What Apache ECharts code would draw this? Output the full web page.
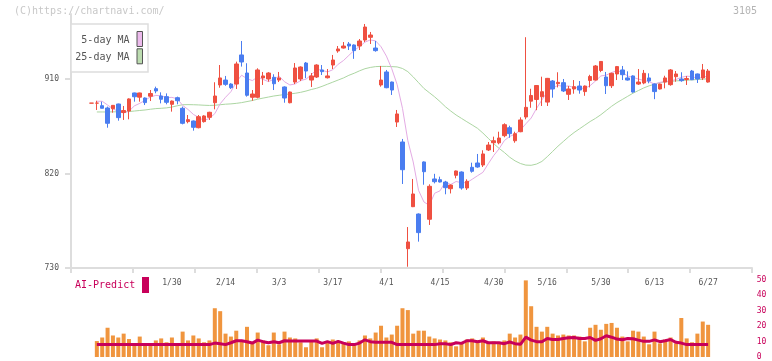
<!DOCTYPE html>
<html>
<head>
<meta charset="utf-8">
<script src="https://cdn.jsdelivr.net/npm/echarts@6/dist/echarts.min.js"></script>
<style>html,body{margin:0;padding:0;background:#fff;}#c{width:772px;height:361px;}</style>
</head>
<body>
<div id="c"></div>
<script>
const dates = ['1/8','1/9','1/10','1/14','1/15','1/16','1/17','1/20','1/21','1/22','1/23','1/24','1/27','1/28','1/29','1/30','1/31',
'2/3','2/4','2/5','2/6','2/7','2/10','2/12','2/13','2/14','2/17','2/18','2/19','2/20','2/21','2/25','2/26','2/27','2/28',
'3/3','3/4','3/5','3/6','3/7','3/10','3/11','3/12','3/13','3/14','3/17','3/18','3/19','3/21','3/24','3/25','3/26','3/27','3/28','3/31',
'4/1','4/2','4/3','4/4','4/7','4/8','4/9','4/10','4/11','4/14','4/15','4/16','4/17','4/18','4/21','4/22','4/23','4/24','4/25','4/28','4/30',
'5/1','5/2','5/7','5/8','5/9','5/12','5/13','5/14','5/15','5/16','5/19','5/20','5/21','5/22','5/23','5/26','5/27','5/28','5/29','5/30',
'6/2','6/3','6/4','6/5','6/6','6/9','6/10','6/11','6/12','6/13','6/16','6/17','6/18','6/19','6/20','6/23','6/24','6/25','6/26','6/27'];

// [open, close, low, high]
const ohlc = [
[887,887,887,887],[887,887,880.5,889.3],[884.6,882.1,882.1,888.4],[882.4,867.8,863.6,883.7],[881.7,884.9,877.9,885.2],
[886.2,873.2,870.3,886.5],[878.1,880,871,884.3],[879.5,891,871.6,891.6],[896.7,893.1,888.4,897],[892.7,896.7,888.4,897],
[891.9,887.5,885.2,892.5],[893.6,896.2,889,899.5],[900.8,898.6,896.4,902.7],[893.8,890.7,886.8,897.3],[893.2,887.8,885.9,896.3],
[885.9,889,878.9,889.5],[892.2,889.3,885.9,893.2],[882.1,867.8,866.8,883.7],[869.4,871.3,867.8,875.7],[870,864,860.8,870.5],
[863.6,874.1,863,875.7],[869.4,874.8,868.5,875.5],[873.5,878.3,871,878.8],[887.4,893.8,881.1,906.9],[904.3,911,901.7,923.3],
[909,904.9,903.5,912.9],[905.2,901.7,900.5,906],[905.2,924.3,900.5,926.5],[932.9,926.2,921.8,946.2],[915.7,894.5,893.2,925],
[892.6,895.7,889.3,899.5],[892.6,918.6,891.6,920.2],[911,912.9,904.3,916.7],[910,915.7,907.5,916.5],[911.6,905.5,899.5,914.5],
[909,911,907.1,916.7],[902.4,891.9,887.4,903],[887.4,897.6,886.8,898],[907.1,920.5,905.2,925.2],[910,921.4,908,922],
[925.2,917.6,910.8,926.2],[909,912.9,902.4,915.7],[911.9,923.3,911,924],[918.6,917,913.8,923.3],[911.2,912.9,910.5,919.5],
[923.3,928.1,919.5,932.9],[936.7,938.6,935,941.4],[939.5,941.4,939,945.2],[943.3,941.4,937.6,945.2],[942.4,937,929.2,943],
[941.4,946.2,937.6,948.1],[947.1,959.5,945.2,962.4],[949.7,951.9,943.3,954.8],[939.5,937,936,946.2],[904.3,909,902.7,922.4],
[916.7,901.7,901.2,918.6],[907.1,899.5,894.8,907.5],[869,876.7,864.3,880.5],[850,823.6,810,852.9],[748.4,754.8,731.2,769],
[788.4,800.5,788,814.8],[781.4,763.7,755.1,782],[831,821.7,809.3,831.5],[776.4,807.8,771,809.7],[814.8,812.2,810.6,819.7],
[814.1,811.9,811.5,817],[811.9,806.5,800.2,813],[805.5,809,801,809.5],[818.3,822.4,815.4,822.8],[821.4,806.2,804.6,822],
[806.2,812.6,804.3,814.5],[825.9,822.1,820.8,830.3],[830,826.2,825.5,838.6],[828.1,838.6,826.2,842.1],[842.4,847.1,841.4,850],
[849.3,851.2,840.5,855.1],[849.2,853.8,847.8,859.8],[856,866.5,854.5,867.8],[863.6,857.9,854,865.5],[851.2,857.9,849.3,859.8],
[859.8,871,859.3,873.5],[873.8,883,871.6,949.8],[888.9,894.3,882.6,900.7],[890.5,903.8,880.3,904.2],[893.1,897.9,884.3,912.2],
[888,910.6,884.3,911],[908.1,900.5,892.2,909],[905.5,906.8,902,916.4],[906.5,898.6,897.6,910],[895.4,900.5,890,903.3],
[900.5,902.7,896,909],[903.3,899.5,896,908.1],[898,903.3,894,903.8],[908.6,912.4,902,914],[909,922.4,908.5,923.3],
[918.1,926.7,916.5,927],[911.9,903.6,895.7,916.7],[903.6,915.4,901.4,916],[914.8,921.8,909,922.4],[918.6,914.1,909,922.4],
[911,909,908.5,917.3],[912.9,897.6,897,913.5],[905.2,907.1,904.3,919.5],[906.2,915.4,905,918.6],[911,908.1,905.9,915.4],
[905.2,898,890.8,905.8],[900.5,905.2,900,905.6],[907.1,911,901.1,913.1],[904.6,918.6,903.6,919.5],[912.2,914.8,907.4,917.6],
[910,908.4,907.4,916.4],[909.5,910.5,904.3,912.8],[917.6,909.3,909,918.6],[914.8,910,906.2,915.2],[911,918.6,909,924.3],
[907.1,917.6,906.5,919.5]];

const ma5 = [null,888.8,888.8,885.2,881.7,879.0,877.6,879.4,884.4,886.8,889.7,892.9,894.4,893.9,892.2,892.5,891.1,884.9,881.0,876.3,
873.3,870.4,872.5,877.0,886.4,892.6,897.9,907.1,913.6,910.3,908.5,911.9,909.6,907.5,909.7,912.7,907.4,904.3,905.3,908.5,
909.8,914.0,919.1,918.4,916.7,918.8,924.0,927.6,932.5,937.3,940.9,945.1,947.2,946.3,940.7,931.8,919.8,904.8,882.1,851.3,
831.0,803.9,792.9,789.7,801.2,803.5,812.0,809.5,812.4,811.2,811.3,814.5,817.9,821.1,829.3,837.0,843.4,851.4,855.3,857.5,
861.4,867.3,872.8,882.0,890.0,897.9,901.4,903.9,902.9,903.4,901.8,901.6,900.9,903.7,908.1,912.9,913.7,916.1,918.0,916.3,
912.8,911.6,909.9,908.6,907.4,905.2,906.8,907.5,908.2,909.5,911.6,912.7,912.3,910.6,911.4,913.2];

const ma25 = [null,878.6,878.6,878.6,878.7,878.8,878.9,879.0,879.5,880.0,880.5,881.2,881.8,882.1,882.5,883.3,884.5,885.5,885.6,885.5,
885.3,885.0,884.8,885.0,885.5,886.0,886.3,886.8,887.5,888.5,889.5,890.8,891.8,892.8,893.8,894.5,895.2,895.8,896.4,897.3,
898.5,900.0,901.2,903.0,905.0,907.0,909.0,911.0,913.5,915.5,917.8,919.8,921.0,921.8,922.0,922.0,921.8,921.5,920.0,917.0,
912.0,906.5,901.0,897.0,893.0,888.5,883.6,879.5,875.7,872.5,869.3,866.2,863.0,858.5,853.5,848.5,844.0,840.0,835.5,832.0,
829.5,828.0,827.8,829.0,831.5,836.0,841.0,846.0,850.5,855.0,859.0,862.5,866.0,869.5,872.5,876.0,880.0,884.0,887.5,890.5,
893.5,896.5,899.0,901.5,903.5,905.0,906.5,907.2,907.8,908.2,908.5,908.8,909.2,909.5,909.8,910.2];

const volume = [null,10.3,12.6,18.9,13.9,12.6,15.1,11.6,8.2,13.2,8.2,8.2,10.7,12,9.5,12.6,8.2,16.4,10.7,13.9,12,
9.5,10.7,31.5,29.6,15.1,13.2,17,10.7,19.5,9.5,15.8,10.7,7.6,15.8,8.2,16.4,12.6,12,9.5,6.3,
10.7,12,6.3,9.5,11.3,9.5,9.5,10.1,8.2,10.7,13.9,12,15.8,20.2,12.6,14.5,20.2,31.5,30.3,15.1,
17,17,13.2,12,11.3,10.7,9.5,6.9,8.8,11.3,12,10.7,12.6,9.5,10.1,9.5,10.7,15.1,12.6,14.5,
49.5,32.8,19.5,16.4,19.5,15.1,13.9,14.5,13.9,13.9,13.2,10.1,18.9,20.8,17.6,21.4,22,18.9,13.2,10.1,
17,16.4,13.2,8.2,16.4,8.8,11.3,12.6,8.8,25.2,12,9.5,15.1,22.9,20.8];

const aiPredict = [null,8,8,8,8,8,8,8,8,8,8,8,8,8,8,8,8,8,8,8,8,8,8,9.0,8.6,8.0,9.2,10.5,10.5,9.9,9.0,10.9,9.9,9.2,9.9,9.2,
10.5,10.3,10.3,10.3,10.3,10.3,10.3,8.8,9.9,8.8,10.1,9.0,8.0,8.0,9.0,11.1,9.9,9.5,9.5,9.5,9.5,
8,8,8,8,8,8,8,8,8.6,8.6,8.0,9.2,8.8,10.5,10.5,9.9,10.5,9.2,9.2,9.2,8.6,9.7,8.6,8.2,
12.8,10.9,9.9,9.9,12.0,11.3,11.3,12.0,12.4,12.6,12.0,12.0,12.6,10.7,11.8,13.7,12.8,11.6,11.1,12.0,
11.8,10.9,10.1,10.1,11.1,9.9,10.5,11.3,9.5,9.0,8,8,8,8,8];

const dateLabels = ['1/30','2/14','3/3','3/17','4/1','4/15','4/30','5/16','5/30','6/13','6/27'];
const priceTicks = [730, 820, 910];

const FONT = 'DejaVu Sans Mono';
const UP = '#ef5041', DOWN = '#4a7df0';
const CRIMSON = '#c8005a';
const AXIS = '#dddddd';
const PMIN = 730, PMAX = 971.9;

const chart = echarts.init(document.getElementById('c'), null, {renderer: 'canvas'});
chart.setOption({
  animation: false,
  backgroundColor: '#fff',
  grid: [
    {left: 88.8, right: 61.2, top: 14, bottom: 93},
    {left: 71, right: 20, top: 14, bottom: 93},
    {left: 88.8, right: 61.2, top: 279.6, bottom: 2}
  ],
  xAxis: [
    {type: 'category', gridIndex: 0, data: dates, boundaryGap: true,
      axisLine: {show: false}, axisTick: {show: false}, splitLine: {show: false},
      axisLabel: {interval: function (i, v) { return dateLabels.indexOf(v) >= 0; },
        margin: 11, fontFamily: FONT, fontSize: 8, color: '#555'}},
    {type: 'value', gridIndex: 1, min: 0, max: 11, interval: 1,
      axisLine: {show: true, lineStyle: {color: AXIS, width: 2}},
      axisTick: {show: true, length: 5, lineStyle: {color: AXIS, width: 2}},
      axisLabel: {show: false}, splitLine: {show: false}},
    {type: 'category', gridIndex: 2, data: dates, boundaryGap: true,
      axisLine: {show: false}, axisTick: {show: false}, axisLabel: {show: false}, splitLine: {show: false}}
  ],
  yAxis: [
    {type: 'value', gridIndex: 0, min: PMIN, max: PMAX, scale: true,
      axisLine: {show: false}, axisTick: {show: false}, axisLabel: {show: false}, splitLine: {show: false}},
    {type: 'value', gridIndex: 1, min: PMIN, max: PMAX,
      axisLine: {show: true, lineStyle: {color: AXIS, width: 2}},
      axisTick: {show: true, length: 6, customValues: priceTicks, lineStyle: {color: AXIS, width: 2}},
      axisLabel: {customValues: priceTicks, margin: 12, fontFamily: FONT, fontSize: 8, color: '#555'},
      splitLine: {show: false}},
    {type: 'value', gridIndex: 2, position: 'right', min: 0, max: 50, interval: 10,
      axisLine: {show: false}, axisTick: {show: false}, splitLine: {show: false},
      axisLabel: {margin: 46, fontFamily: FONT, fontSize: 8, color: CRIMSON}}
  ],
  series: [
    {name: '25-day MA', type: 'line', xAxisIndex: 0, yAxisIndex: 0, data: ma25, showSymbol: false,
      lineStyle: {color: '#acd6a2', width: 1}, z: 2},
    {name: '5-day MA', type: 'line', xAxisIndex: 0, yAxisIndex: 0, data: ma5, showSymbol: false,
      lineStyle: {color: '#e4abe4', width: 1}, z: 2},
    {name: 'price', type: 'candlestick', xAxisIndex: 0, yAxisIndex: 0, data: ohlc, barWidth: 4, z: 3,
      itemStyle: {color: UP, color0: DOWN, borderColor: UP, borderColor0: DOWN, borderWidth: 1}},
    {name: 'volume', type: 'bar', xAxisIndex: 2, yAxisIndex: 2, data: volume, barWidth: 4,
      itemStyle: {color: '#f0953e'}, z: 2},
    {name: 'AI-Predict', type: 'line', xAxisIndex: 2, yAxisIndex: 2, data: aiPredict,
      symbol: 'rect', symbolSize: 4, showSymbol: true,
      itemStyle: {color: CRIMSON}, lineStyle: {color: CRIMSON, width: 3}, z: 3}
  ],
  graphic: [
    {type: 'text', left: 14, top: 6, style: {text: '(C)https://chartnavi.com/', font: '10px "DejaVu Sans Mono"', fill: '#c8c8c8'}},
    {type: 'text', right: 15, top: 6, style: {text: '3105', font: '10px "DejaVu Sans Mono"', fill: '#b4b4b4'}},
    {type: 'rect', shape: {x: 71, y: 24, width: 77, height: 48}, style: {fill: '#fff', stroke: '#dddddd', lineWidth: 1.5}, z: 10},
    {type: 'text', x: 129.5, y: 40.7, style: {text: '5-day MA', font: '10px "DejaVu Sans Mono"', fill: '#555', align: 'right', verticalAlign: 'middle'}, z: 11},
    {type: 'rect', shape: {x: 137, y: 31.5, width: 5.5, height: 15}, style: {fill: '#ecbaec', stroke: '#555', lineWidth: 1}, z: 11},
    {type: 'text', x: 129.5, y: 57.3, style: {text: '25-day MA', font: '10px "DejaVu Sans Mono"', fill: '#555', align: 'right', verticalAlign: 'middle'}, z: 11},
    {type: 'rect', shape: {x: 137, y: 48.8, width: 5.5, height: 15}, style: {fill: '#bcdcb0', stroke: '#555', lineWidth: 1}, z: 11},
    {type: 'text', x: 75, y: 285.5, style: {text: 'AI-Predict', font: '10px "DejaVu Sans Mono"', fill: CRIMSON, verticalAlign: 'middle'}, z: 11},
    {type: 'rect', shape: {x: 142, y: 277, width: 7, height: 16}, style: {fill: CRIMSON}, z: 11}
  ]
});
</script>
</body>
</html>
